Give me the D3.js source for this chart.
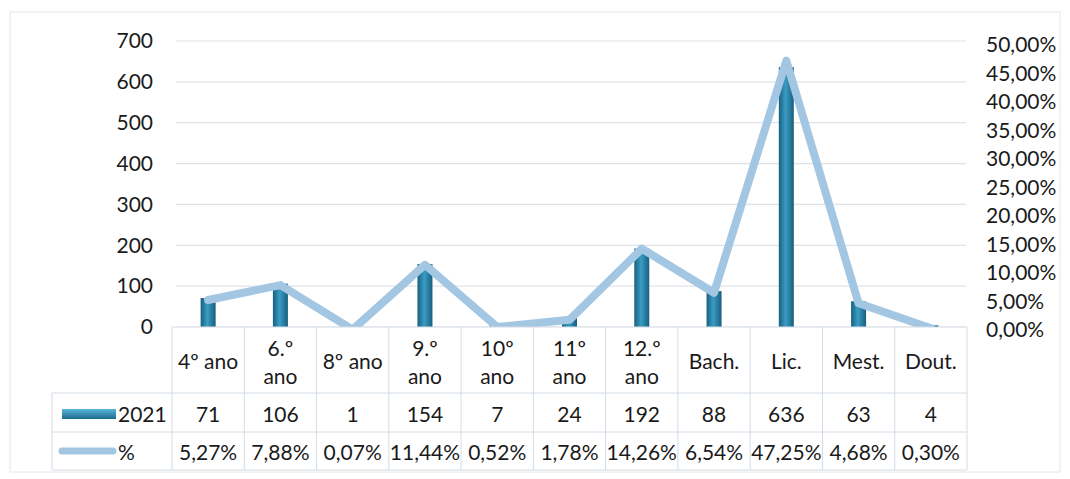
<!DOCTYPE html>
<html>
<head>
<meta charset="utf-8">
<script src="https://cdn.jsdelivr.net/npm/d3@7"></script>
<style>
  body { margin: 0; background: #fff; }
  text { font-family: Lato, "Liberation Sans", sans-serif; fill: #1a1a1a; }
</style>
</head>
<body>
<div id="wrapper"></div>
<script>
// data
const categories = ["4º ano", "6.º ano", "8º ano", "9.º ano", "10º ano", "11º ano", "12.º ano", "Bach.", "Lic.", "Mest.", "Dout."]
const counts2021 = [71, 106, 1, 154, 7, 24, 192, 88, 636, 63, 4]
const percents = [5.27, 7.88, 0.07, 11.44, 0.52, 1.78, 14.26, 6.54, 47.25, 4.68, 0.30]
const leftTicks = [0, 100, 200, 300, 400, 500, 600, 700]
const rightTicks = [0, 5, 10, 15, 20, 25, 30, 35, 40, 45, 50]
const seriesNames = ["2021", "%"]

const fmtPct = d => d3.format(".2f")(d).replace(".", ",") + "%"

const width = 1070, height = 479
const fontSize = 21

const svg = d3.select("#wrapper").append("svg")
  .attr("width", width)
  .attr("height", height)

const defs = svg.append("defs")
const barGrad = defs.append("linearGradient").attr("id", "barGrad")
  .attr("x1", "0").attr("x2", "1").attr("y1", "0").attr("y2", "0")
barGrad.append("stop").attr("offset", "0%").attr("stop-color", "#17607f")
barGrad.append("stop").attr("offset", "45%").attr("stop-color", "#3a9cc4")
barGrad.append("stop").attr("offset", "100%").attr("stop-color", "#185f7e")
const legGrad = defs.append("linearGradient").attr("id", "legGrad")
  .attr("x1", "0").attr("x2", "0").attr("y1", "0").attr("y2", "1")
legGrad.append("stop").attr("offset", "0%").attr("stop-color", "#5ab6db")
legGrad.append("stop").attr("offset", "100%").attr("stop-color", "#1b6a8c")

// outer frame
svg.append("rect")
  .attr("x", 10).attr("y", 12)
  .attr("width", 1050).attr("height", 460)
  .attr("fill", "none")
  .attr("stroke", "#e3e8e6")

// scales
const x = d3.scaleBand()
  .domain(categories)
  .range([172, 967])

const yLeft = d3.scaleLinear()
  .domain([0, 700])
  .range([327, 41])

const yRight = d3.scaleLinear()
  .domain([0, 50])
  .range([330, 45])

// gridlines
svg.append("g")
  .selectAll("line")
  .data(leftTicks)
  .join("line")
    .attr("x1", 176).attr("x2", 966)
    .attr("y1", d => yLeft(d)).attr("y2", d => yLeft(d))
    .attr("stroke", "#dfe3e8")
    .attr("stroke-width", 1.2)

// axes
const leftAxis = svg.append("g")
  .attr("transform", "translate(153,0)")
  .call(d3.axisLeft(yLeft).tickValues(leftTicks).tickSize(0).tickPadding(0))
leftAxis.select(".domain").remove()
leftAxis.selectAll("text").attr("font-size", fontSize).attr("font-family", null)

const rightAxis = svg.append("g")
  .attr("transform", "translate(986,0)")
  .call(d3.axisRight(yRight).tickValues(rightTicks).tickSize(0).tickPadding(0).tickFormat(fmtPct))
rightAxis.select(".domain").remove()
rightAxis.selectAll("text").attr("font-size", fontSize).attr("font-family", null)

// bars
const barWidth = 15
svg.append("g")
  .selectAll("rect")
  .data(counts2021)
  .join("rect")
    .attr("x", (d, i) => x(categories[i]) + x.bandwidth() / 2 - barWidth / 2)
    .attr("y", d => yLeft(d))
    .attr("width", barWidth)
    .attr("height", d => yLeft(0) - yLeft(d))
    .attr("fill", "url(#barGrad)")

// line
const line = d3.line()
  .x((d, i) => x(categories[i]) + x.bandwidth() / 2)
  .y(d => yRight(d))

svg.append("path")
  .datum(percents)
  .attr("d", line)
  .attr("fill", "none")
  .attr("stroke", "#a3c6e3")
  .attr("stroke-width", 8)
  .attr("stroke-linejoin", "round")
  .attr("stroke-linecap", "round")

// data table
const rowTop = 327, row1 = 393, row2 = 432, rowBottom = 470
const tableLeft = 52, tableRight = 967
const gridColor = "#d3dce6"
const table = svg.append("g")

table.append("rect")
  .attr("x", 172).attr("y", rowTop)
  .attr("width", tableRight - 172).attr("height", row1 - rowTop)
  .attr("fill", "#fff")

const hLines = [
  [172, rowTop], [tableLeft, row1], [tableLeft, row2], [tableLeft, rowBottom]
]
table.selectAll("line.h")
  .data(hLines)
  .join("line")
    .attr("class", "h")
    .attr("x1", d => d[0]).attr("x2", tableRight)
    .attr("y1", d => d[1]).attr("y2", d => d[1])
    .attr("stroke", gridColor)

table.selectAll("line.v")
  .data(categories.concat(["end"]))
  .join("line")
    .attr("class", "v")
    .attr("x1", (d, i) => i < categories.length ? x(d) : tableRight)
    .attr("x2", (d, i) => i < categories.length ? x(d) : tableRight)
    .attr("y1", rowTop).attr("y2", rowBottom)
    .attr("stroke", gridColor)

table.append("line")
  .attr("x1", tableLeft).attr("x2", tableLeft)
  .attr("y1", row1).attr("y2", rowBottom)
  .attr("stroke", gridColor)

// category labels (wrap when wider than cell)
const catText = table.selectAll("text.cat")
  .data(categories)
  .join("text")
    .attr("class", "cat")
    .attr("x", d => x(d) + x.bandwidth() / 2)
    .attr("y", (rowTop + row1) / 2)
    .attr("text-anchor", "middle")
    .attr("dominant-baseline", "central")
    .attr("font-size", fontSize)
    .text(d => d)

catText.each(function(d) {
  const t = d3.select(this)
  if (this.getComputedTextLength() > 61 && d.includes(" ")) {
    const parts = d.split(" ")
    t.text(null)
    t.append("tspan").attr("x", t.attr("x")).attr("y", (rowTop + row1) / 2 - 13).text(parts[0])
    t.append("tspan").attr("x", t.attr("x")).attr("y", (rowTop + row1) / 2 + 15).text(parts.slice(1).join(" "))
  }
})

table.selectAll("text.val")
  .data(counts2021)
  .join("text")
    .attr("class", "val")
    .attr("x", (d, i) => x(categories[i]) + x.bandwidth() / 2)
    .attr("y", (row1 + row2) / 2 + 1)
    .attr("text-anchor", "middle")
    .attr("dominant-baseline", "central")
    .attr("font-size", fontSize)
    .text(d => d)

table.selectAll("text.pct")
  .data(percents)
  .join("text")
    .attr("class", "pct")
    .attr("x", (d, i) => x(categories[i]) + x.bandwidth() / 2)
    .attr("y", (row2 + rowBottom) / 2)
    .attr("text-anchor", "middle")
    .attr("dominant-baseline", "central")
    .attr("font-size", fontSize)
    .text(d => fmtPct(d))

// legend keys
table.append("rect")
  .attr("x", 62).attr("y", 409)
  .attr("width", 54).attr("height", 10)
  .attr("fill", "url(#legGrad)")

table.append("line")
  .attr("x1", 62).attr("x2", 113)
  .attr("y1", 451).attr("y2", 451)
  .attr("stroke", "#a3c6e3")
  .attr("stroke-width", 7)
  .attr("stroke-linecap", "round")

table.selectAll("text.leg")
  .data(seriesNames)
  .join("text")
    .attr("class", "leg")
    .attr("x", 118)
    .attr("y", (d, i) => i === 0 ? (row1 + row2) / 2 + 1 : (row2 + rowBottom) / 2)
    .attr("dominant-baseline", "central")
    .attr("font-size", fontSize)
    .text(d => d)
</script>
</body>
</html>
